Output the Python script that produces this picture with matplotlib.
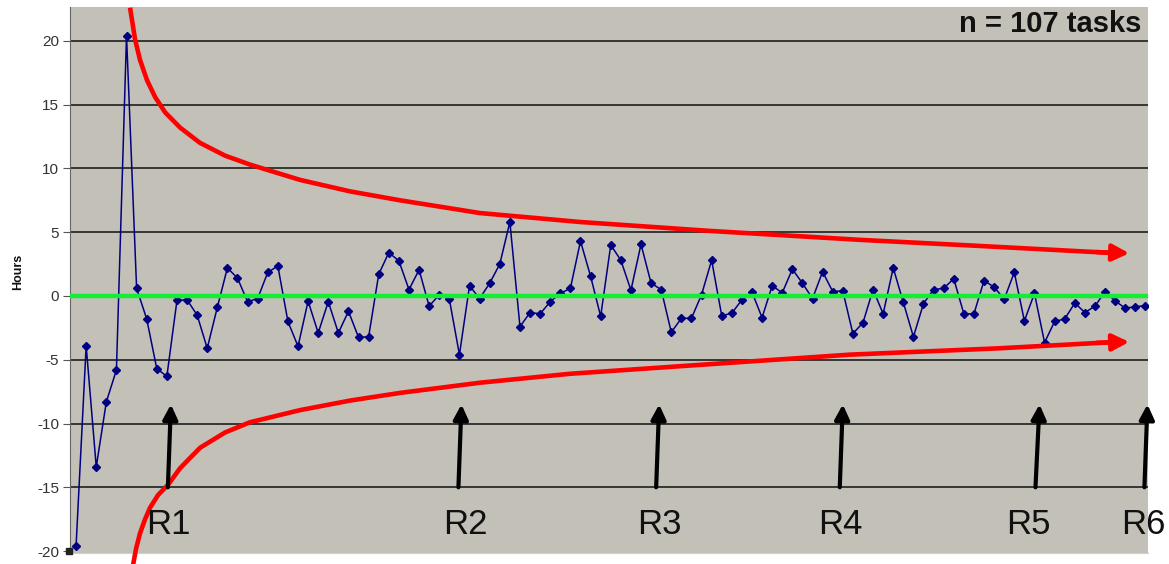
import matplotlib
matplotlib.use("Agg")
import matplotlib.pyplot as plt

plt.rcParams["font.family"] = ["Liberation Sans", "DejaVu Sans"]
plt.rcParams["axes.unicode_minus"] = False

# =====================================================
# Data
# =====================================================

hours = [
    -19.6, -3.9, -13.4, -8.3, -5.8, 20.4, 0.6, -1.8, -5.7, -6.3,
    -0.35, -0.3, -1.5, -4.1, -0.9, 2.2, 1.4, -0.45, -0.2, 1.85,
    2.35, -2.0, -3.95, -0.4, -2.9, -0.45, -2.9, -1.2, -3.25, -3.2,
    1.7, 3.4, 2.75, 0.5, 2.05, -0.8, 0.1, -0.25, -4.6, 0.8,
    -0.2, 1.0, 2.5, 5.8, -2.4, -1.3, -1.4, -0.45, 0.2, 0.6,
    4.3, 1.55, -1.6, 4.0, 2.8, 0.45, 4.05, 1.0, 0.5, -2.85,
    -1.75, -1.75, 0.1, 2.8, -1.55, -1.35, -0.3, 0.3, -1.7, 0.8,
    0.25, 2.1, 1.0, -0.2, 1.9, 0.35, 0.4, -2.95, -2.1, 0.5,
    -1.4, 2.2, -0.5, -3.2, -0.6, 0.5, 0.6, 1.35, -1.4, -1.4,
    1.2, 0.7, -0.25, 1.85, -1.95, 0.2, -3.65, -2.0, -1.8, -0.55,
    -1.3, -0.8, 0.35, -0.4, -0.95, -0.85, -0.75,
]
tasks = list(range(len(hours)))

# hand-drawn funnel (red)
upper_x = [5.35, 5.85, 6.34, 7.04, 7.83, 8.82, 10.31, 12.29, 14.77, 17.24,
           22.2, 27.16, 32.11, 40.04, 49.95, 62.84, 77.7, 88.9, 103.2]
upper_y = [22.6, 20.1, 18.5, 16.9, 15.6, 14.4, 13.2, 12.0, 11.0, 10.3,
           9.1, 8.2, 7.5, 6.5, 5.8, 5.1, 4.4, 3.95, 3.35]
lower_x = [5.55, 5.95, 6.34, 6.84, 7.33, 8.13, 9.12, 10.31, 12.29, 14.77,
           17.24, 22.2, 27.16, 32.11, 40.04, 48.96, 61.84, 76.7, 91.58, 103.2]
lower_y = [-21.5, -19.8, -18.6, -17.5, -16.6, -15.6, -14.8, -13.5, -11.9, -10.7,
           -9.9, -8.95, -8.2, -7.6, -6.8, -6.1, -5.4, -4.6, -4.1, -3.6]
funnel_tip = 104.4

# release markers
releases = ["R1", "R2", "R3", "R4", "R5", "R6"]
release_base = [9.1, 37.9, 57.5, 75.7, 95.1, 105.9]
release_tip = [9.4, 38.2, 57.8, 76.0, 95.5, 106.2]
release_label = [9.1, 38.6, 57.8, 75.8, 94.4, 105.8]

# =====================================================
# Plot
# =====================================================

fig = plt.figure(figsize=(11.69, 5.64), dpi=100)
ax = fig.add_axes([0.0599, 0.0195, 0.9221, 0.968])
ax.set_facecolor("#c3c0b8")

ax.set_xlim(-0.6, 106.25)
ax.set_ylim(-20.15, 22.65)
ax.set_yticks(range(-20, 21, 5))
for v in range(-15, 21, 5):
    ax.axhline(v, color="#2b2b2b", lw=1.3, zorder=1)

ax.plot(tasks, hours, color="#000080", lw=1.1, marker="D", ms=4.5,
        mfc="#000080", mec="#000080", zorder=3)
ax.plot([-0.7], [-20], marker="s", ms=4, color="#222222", clip_on=False, zorder=3)

ax.axhline(0, color="#11ee33", lw=3.2, zorder=4)

ax.plot(upper_x, upper_y, color="#ff0000", lw=3.3, clip_on=False, zorder=5,
        solid_capstyle="butt", solid_joinstyle="round")
ax.plot(lower_x, lower_y, color="#ff0000", lw=3.3, clip_on=False, zorder=5,
        solid_capstyle="butt", solid_joinstyle="round")
for xs, ys in [(upper_x, upper_y), (lower_x, lower_y)]:
    ax.annotate("", xy=(funnel_tip, ys[-1]), xytext=(xs[-1] - 2, ys[-1] + (ys[-2] - ys[-1]) * 0.15),
                arrowprops=dict(arrowstyle="-|>", color="#ff0000", lw=3.3,
                                mutation_scale=25, shrinkA=0, shrinkB=0),
                zorder=5)

for name, xb, xt, xl in zip(releases, release_base, release_tip, release_label):
    ax.annotate("", xy=(xt, -8.5), xytext=(xb, -15.0),
                arrowprops=dict(arrowstyle="-|>", color="black", lw=3,
                                mutation_scale=22, shrinkA=0, shrinkB=0),
                annotation_clip=False, zorder=6)
    ax.text(xl, -17.9, name, fontsize=25, ha="center", va="center",
            color="#111111", clip_on=False, zorder=6)

ax.text(105.6, 21.35, "n = 107 tasks", fontsize=21, fontweight="bold",
        ha="right", va="center", color="#111111")

ax.set_xticks([])
ax.tick_params(axis="y", labelsize=11, length=5, color="#555555",
               labelcolor="#333333", pad=3)
for s in ["top", "right"]:
    ax.spines[s].set_visible(False)
ax.spines["left"].set_color("#666666")
ax.spines["bottom"].set_color("#d0d0d0")
fig.text(18 / 1169, 1 - 272 / 564, "Hours", fontsize=9, fontweight="bold",
         rotation=90, ha="center", va="center", color="#111111")

fig.savefig("out.png", dpi=100)
plt.close()
